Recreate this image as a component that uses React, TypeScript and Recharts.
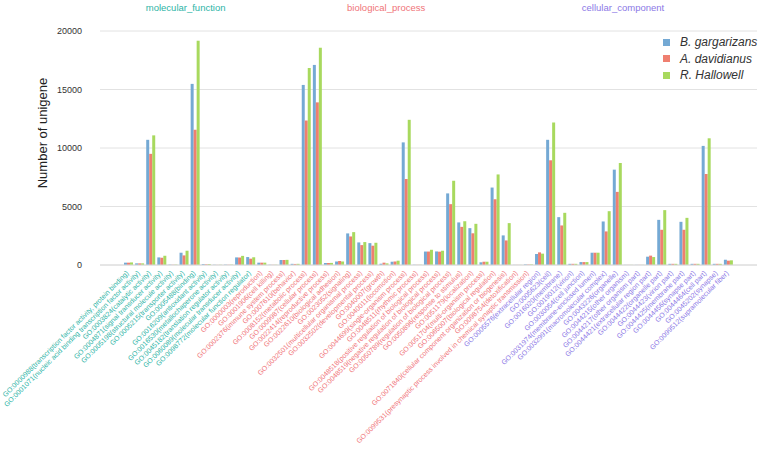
import { Bar, BarChart, CartesianGrid, Label, Legend, ReferenceArea, XAxis, YAxis } from "recharts";

// GO level-2 terms, split by ontology
const MF_TERMS = [
  "GO:0000988(transcription factor activity, protein binding)",
  "GO:0001071(nucleic acid binding transcription factor activity)",
  "GO:0003824(catalytic activity)",
  "GO:0004871(signal transducer activity)",
  "GO:0005198(structural molecule activity)",
  "GO:0005215(transporter activity)",
  "GO:0005488(binding)",
  "GO:0016209(antioxidant activity)",
  "GO:0016530(metallochaperone activity)",
  "GO:0045182(translation regulator activity)",
  "GO:0060089(molecular transducer activity)",
  "GO:0098772(molecular function regulator)"
];
const BP_TERMS = [
  "GO:0000003(reproduction)",
  "GO:0001906(cell killing)",
  "GO:0002376(immune system process)",
  "GO:0007610(behavior)",
  "GO:0008152(metabolic process)",
  "GO:0009987(cellular process)",
  "GO:0022414(reproductive process)",
  "GO:0022610(biological adhesion)",
  "GO:0023052(signaling)",
  "GO:0032501(multicellular organismal process)",
  "GO:0032502(developmental process)",
  "GO:0040007(growth)",
  "GO:0040011(locomotion)",
  "GO:0044699(single-organism process)",
  "GO:0048511(rhythmic process)",
  "GO:0048518(positive regulation of biological process)",
  "GO:0048519(negative regulation of biological process)",
  "GO:0050789(regulation of biological process)",
  "GO:0050896(response to stimulus)",
  "GO:0051179(localization)",
  "GO:0051704(multi-organism process)",
  "GO:0065007(biological regulation)",
  "GO:0071840(cellular component organization or biogenesis)",
  "GO:0098754(detoxification)",
  "GO:0099531(presynaptic process involved in chemical synaptic transmission)"
];
const CC_TERMS = [
  "GO:0005576(extracellular region)",
  "GO:0005623(cell)",
  "GO:0016020(membrane)",
  "GO:0019012(virion)",
  "GO:0030054(cell junction)",
  "GO:0031974(membrane-enclosed lumen)",
  "GO:0032991(macromolecular complex)",
  "GO:0043226(organelle)",
  "GO:0044215(other organism)",
  "GO:0044217(other organism part)",
  "GO:0044421(extracellular region part)",
  "GO:0044422(organelle part)",
  "GO:0044423(virion part)",
  "GO:0044425(membrane part)",
  "GO:0044456(synapse part)",
  "GO:0044464(cell part)",
  "GO:0045202(synapse)",
  "GO:0099512(supramolecular fiber)"
];

const ONTOLOGIES = ["molecular_function", "biological_process", "cellular_component"];
const SPECIES = ["B. gargarizans", "A. davidianus", "R. Hallowell"];

// unigene counts per term, same order as MF + BP + CC
const B_GARGARIZANS = [
  200, 140, 10700, 650, 30, 1050, 15480, 80, 20, 30, 650, 680,
  200, 20, 430, 100, 15390, 17100, 170, 300, 2700, 1930, 1870, 110, 280, 10480, 20,
  1150, 1160, 6120, 3640, 3150, 230, 6620, 2530, 10, 50,
  940, 10700, 4090, 100, 250, 1050, 3720, 8150, 10, 10, 710, 3860, 100, 3690, 100, 10180, 100, 450
];
const A_DAVIDIANUS = [
  200, 140, 9500, 620, 20, 820, 11560, 60, 10, 20, 640, 540,
  200, 15, 430, 90, 12350, 13900, 170, 340, 2440, 1700, 1650, 200, 300, 7350, 15,
  1150, 1140, 5200, 3260, 2710, 280, 5620, 2100, 10, 40,
  1080, 8950, 3380, 100, 250, 1050, 2870, 6250, 10, 10, 800, 3010, 100, 3010, 100, 7780, 100, 370
];
const R_HALLOWELL = [
  220, 140, 11080, 790, 30, 1220, 19170, 80, 20, 30, 780, 660,
  200, 20, 440, 100, 16840, 18570, 180, 300, 2810, 1960, 1900, 140, 370, 12410, 20,
  1300, 1220, 7200, 3740, 3520, 280, 7740, 3580, 10, 50,
  970, 12180, 4460, 100, 250, 1050, 4600, 8720, 10, 10, 680, 4690, 100, 4030, 100, 10830, 100, 400
];

const Y_TICKS = [0, 5000, 10000, 15000, 20000];

const FONT = "'Liberation Sans', Arial, sans-serif";
const BAR_COLORS = ["#74a9d4", "#ef7f70", "#a8d95e"];
const ONTOLOGY_COLORS = ["#2db4a6", "#f07479", "#8b78e6"];
// titles sit a little left of their span's middle
const TITLE_SHIFT = [-4, -9, -11];

const TERM_GROUPS = [MF_TERMS, BP_TERMS, CC_TERMS];
const rows = TERM_GROUPS.flatMap((terms, g) => terms.map((term) => ({ term, group: g }))).map((r, i) => ({
  ...r,
  b: B_GARGARIZANS[i],
  a: A_DAVIDIANUS[i],
  r: R_HALLOWELL[i]
}));
const groupOf = new Map(rows.map((r) => [r.term, r.group]));

function TermTick({ x, y, payload }: any) {
  const color = ONTOLOGY_COLORS[groupOf.get(payload.value) ?? 0];
  return (
    <text x={x} y={y} dy={1} transform={`rotate(-45 ${x} ${y})`} textAnchor="end" fontSize={7} fill={color}>
      {payload.value}
    </text>
  );
}

function SpeciesLegend() {
  return (
    <div style={{ fontFamily: FONT }}>
      {SPECIES.map((s, i) => (
        <div key={s} style={{ display: "flex", alignItems: "center", height: 16.5 }}>
          <span style={{ display: "inline-block", width: 7, height: 7, background: BAR_COLORS[i], marginRight: 10 }} />
          <span style={{ fontStyle: "italic", fontSize: 12, color: "#333" }}>{s}</span>
        </div>
      ))}
    </div>
  );
}

export default function App() {
  return (
    <div style={{ position: "absolute", left: 0, top: 0, width: 760, height: 449, background: "#fff", fontFamily: FONT }}>
      <BarChart
        width={760}
        height={449}
        data={rows}
        margin={{ top: 31, right: 3, bottom: 0, left: 0 }}
        barCategoryGap={1}
        barGap={0}
      >
        <CartesianGrid vertical={false} stroke="#e2e2e2" />
        <XAxis
          dataKey="term"
          interval={0}
          height={184}
          tick={<TermTick />}
          tickLine={false}
          axisLine={{ stroke: "#dadada" }}
          padding={{ left: 23, right: 23 }}
        />
        <YAxis
          width={100}
          domain={[0, 20000]}
          ticks={Y_TICKS}
          tickLine={false}
          axisLine={false}
          tickMargin={12}
          tick={{ fontSize: 9, fill: "#333" }}
        >
          <Label
            content={({ viewBox }: any) => {
              const cx = 42;
              const cy = viewBox.y + viewBox.height / 2 - 15;
              return (
                <text x={cx} y={cy} transform={`rotate(-90 ${cx} ${cy})`} textAnchor="middle" dominantBaseline="central" fontSize={13} fill="#222">
                  Number of unigene
                </text>
              );
            }}
          />
        </YAxis>
        {TERM_GROUPS.map((terms, g) => (
          <ReferenceArea
            key={ONTOLOGIES[g]}
            x1={terms[0]}
            x2={terms[terms.length - 1]}
            fill="none"
            stroke="none"
            label={{ value: ONTOLOGIES[g], position: "top", offset: 20, dx: TITLE_SHIFT[g], fontSize: 9.5, fill: ONTOLOGY_COLORS[g] }}
          />
        ))}
        <Legend
          layout="vertical"
          align="center"
          verticalAlign="middle"
          content={<SpeciesLegend />}
          wrapperStyle={{ left: 663, top: 34, width: "auto" }}
        />
        <Bar dataKey="b" name={SPECIES[0]} fill={BAR_COLORS[0]} isAnimationActive={false} />
        <Bar dataKey="a" name={SPECIES[1]} fill={BAR_COLORS[1]} isAnimationActive={false} />
        <Bar dataKey="r" name={SPECIES[2]} fill={BAR_COLORS[2]} isAnimationActive={false} />
      </BarChart>
    </div>
  );
}
